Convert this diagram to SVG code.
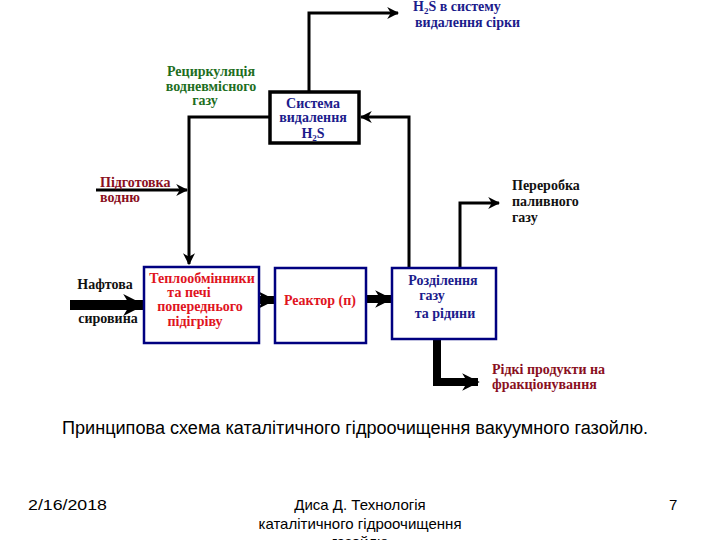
<svg xmlns="http://www.w3.org/2000/svg" width="720" height="540" viewBox="0 0 720 540">
<defs>
<marker id="ah" viewBox="0 0 10 10" refX="9" refY="5" markerWidth="4" markerHeight="4" markerUnits="strokeWidth" orient="auto">
<path d="M0,0 L10,5 L0,10 L3,5 Z" fill="#000"/>
</marker>
<marker id="ahs" viewBox="0 0 10 10" refX="9" refY="5" markerWidth="2.2" markerHeight="2.2" markerUnits="strokeWidth" orient="auto">
<path d="M0,0 L10,5 L0,10 L3,5 Z" fill="#000"/>
</marker>
</defs>
<style>
.box{fill:#fff;stroke:#000080;stroke-width:2.5}
.sys{fill:#fff;stroke:#000;stroke-width:3.5}
.t{font-family:'Liberation Serif','DejaVu Serif',serif;font-weight:700;font-size:14px}
.blue{fill:#1c1c8c}
.red{fill:#e0141e}
.dred{fill:#8a0f1e}
.green{fill:#1e6e1e}
.blk{fill:#111}
.ln{fill:none;stroke:#000;stroke-width:3}
.thick{fill:none;stroke:#000;stroke-width:8}
.cap{font-family:"Liberation Sans",Arial,sans-serif;font-size:18px;fill:#000}
.ft{font-family:"Liberation Sans",Arial,sans-serif;font-size:15px;fill:#000}
</style>
<rect width="720" height="540" fill="#fff"/>
<g id="connectors">
<path class="ln" d="M309,92 V13 H398" marker-end="url(#ah)"/>
<path class="ln" d="M270,117 H189 V264" marker-end="url(#ah)"/>
<path class="ln" d="M96,190 H187" marker-end="url(#ah)"/>
<path class="ln" d="M409,268 V117 H361" marker-end="url(#ah)"/>
<path class="ln" d="M460,268 V203 H499" marker-end="url(#ah)"/>
<path class="thick" style="stroke-width:10" d="M70,305 H143" marker-end="url(#ahs)"/>
<path class="thick" d="M259,300 H274" marker-end="url(#ahs)"/>
<path class="thick" d="M366,299 H391" marker-end="url(#ahs)"/>
<path class="thick" d="M437,339 V382 H478" marker-end="url(#ahs)"/>
</g>
<g id="sys-h2s">
<rect class="sys" x="270" y="92" width="89" height="51"/>
<text class="t blue" x="313" y="108" text-anchor="middle">Система</text>
<text class="t blue" x="313" y="122" text-anchor="middle">видалення</text>
<text class="t blue" x="313" y="138" text-anchor="middle">H<tspan font-size="9" dy="3">2</tspan><tspan dy="-3">S</tspan></text>
</g>
<g id="heat-exchangers">
<rect class="box" x="144" y="267" width="115" height="76"/>
<text class="t red" x="202" y="283" text-anchor="middle">Теплообмінники</text>
<text class="t red" x="189" y="297" text-anchor="middle">та печі</text>
<text class="t red" x="200" y="311" text-anchor="middle">попереднього</text>
<text class="t red" x="195" y="326" text-anchor="middle">підігріву</text>
</g>
<g id="reactor">
<rect class="box" x="275" y="268" width="91" height="75"/>
<text class="t red" x="320" y="305" text-anchor="middle">Реактор (п)</text>
</g>
<g id="separation">
<rect class="box" x="392" y="268" width="104" height="71"/>
<text class="t blue" x="443" y="285" text-anchor="middle">Розділення</text>
<text class="t blue" x="432" y="300" text-anchor="middle">газу</text>
<text class="t blue" x="445" y="318" text-anchor="middle">та рідини</text>
</g>
<g id="labels">
<text class="t blue" x="413" y="11">H<tspan font-size="9" dy="3">2</tspan><tspan dy="-3">S в систему</tspan></text>
<text class="t blue" x="415" y="27">видалення сірки</text>
<text class="t green" x="211" y="76" text-anchor="middle">Рециркуляція</text>
<text class="t green" x="211" y="91" text-anchor="middle">водневмісного</text>
<text class="t green" x="205" y="105" text-anchor="middle">газу</text>
<text class="t dred" x="100" y="187">Підготовка</text>
<text class="t dred" x="100" y="202">водню</text>
<text class="t blk" x="105" y="289" text-anchor="middle">Нафтова</text>
<text class="t blk" x="108" y="323" text-anchor="middle">сировина</text>
<text class="t blk" x="512" y="190">Переробка</text>
<text class="t blk" x="512" y="206">паливного</text>
<text class="t blk" x="512" y="222">газу</text>
<text class="t dred" x="492" y="374">Рідкі продукти на</text>
<text class="t dred" x="492" y="389">фракціонування</text>
</g>
<g id="caption">
<text class="cap" x="355" y="434" text-anchor="middle" textLength="586" lengthAdjust="spacingAndGlyphs">Принципова схема каталітичного гідроочищення вакуумного газойлю.</text>
<text class="ft" x="28" y="510" textLength="79" lengthAdjust="spacingAndGlyphs">2/16/2018</text>
<text class="ft" x="360" y="510" text-anchor="middle">Диса Д. Технологія</text>
<text class="ft" x="360" y="529" text-anchor="middle">каталітичного гідроочищення</text>
<text class="ft" x="360" y="547" text-anchor="middle">газойлю</text>
<text class="ft" x="669" y="510">7</text>
</g>
</svg>
